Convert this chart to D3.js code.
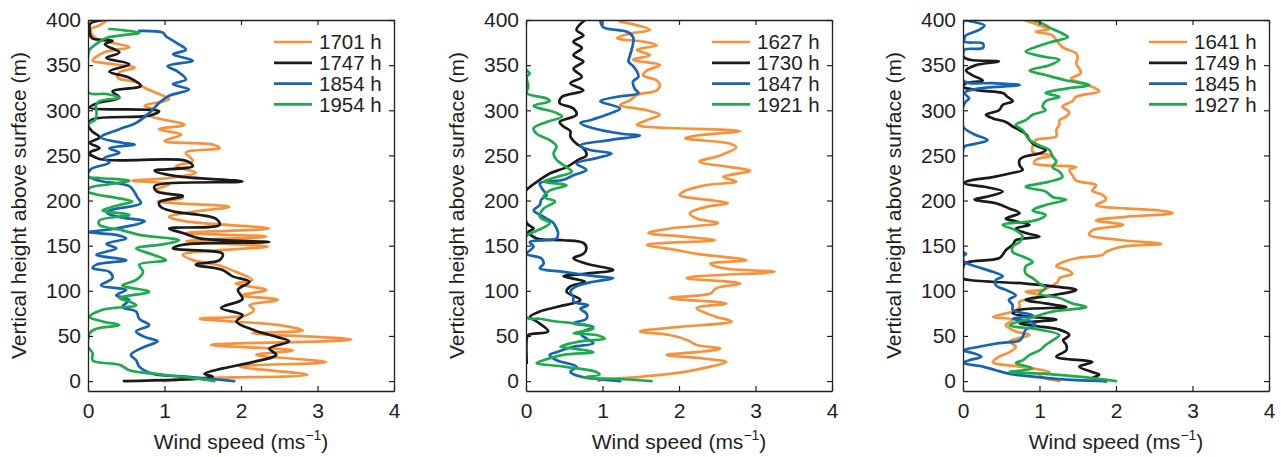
<!DOCTYPE html>
<html>
<head>
<meta charset="utf-8">
<script src="https://cdn.jsdelivr.net/npm/d3@7"></script>
<style>
  html, body { margin: 0; padding: 0; background: #fff; }
  svg text { font-family: "Liberation Sans", Arial, Helvetica, sans-serif; fill: #231f20; }
</style>
</head>
<body>
<svg id="chart" width="1281" height="457"></svg>
<script>
// ---------------- DATA: [height (m), wind speed (m/s)] ----------------
// Panel 1
const p1_1701 = [[400,0.26],[394,0.15],[390,0.04],[384,0.05],[380,0.10],[375,0.30],[370,0.54],[365,0.24],[360,0.12],[355,0.06],[352,0.25],[347,0.61],[342,0.41],[336,0.39],[331,0.63],[325,0.74],[318,0.93],[312,1.06],[305,0.74],[299,0.91],[294,0.82],[284,1.26],[279,0.93],[273,1.22],[266,1.00],[262,1.63],[258,1.72],[253,1.28],[244,1.37],[238,1.15],[231,1.41],[225,1.06],[222,0.58],[218,1.06],[212,0.89],[203,1.24],[199,0.91],[193,1.85],[188,1.41],[182,1.06],[177,1.28],[169,2.37],[164,1.28],[160,2.33],[155,1.28],[149,2.35],[145,1.72],[140,1.24],[134,1.37],[128,1.72],[121,1.93],[112,2.15],[108,1.93],[101,2.33],[95,2.02],[90,2.48],[84,2.11],[79,2.17],[73,2.07],[69,1.46],[66,1.89],[62,2.50],[56,2.81],[53,2.15],[46,3.44],[40,1.61],[34,2.68],[29,2.20],[21,3.11],[16,1.98],[7,2.87],[3,1.41],[0,0.98]];
const p1_1747 = [[400,0.20],[396,0.03],[390,0.02],[380,0.05],[377,0.32],[373,0.22],[364,0.41],[358,0.24],[351,0.54],[343,0.28],[336,0.54],[327,0.69],[321,0.32],[314,0.41],[308,0.13],[303,0.02],[299,0.93],[294,0.80],[290,0.06],[284,0.00],[277,0.05],[270,0.15],[264,0.02],[258,0.15],[253,0.02],[246,0.15],[244,1.28],[238,1.37],[233,0.87],[227,1.15],[221,2.02],[216,0.87],[210,0.90],[205,1.24],[198,0.93],[193,0.95],[188,1.11],[180,1.67],[173,1.72],[169,1.06],[164,1.24],[158,1.46],[154,2.37],[151,1.24],[147,1.11],[141,1.76],[134,1.72],[129,1.41],[123,1.76],[116,1.89],[110,2.11],[101,1.96],[91,2.02],[81,1.74],[73,2.02],[66,1.94],[57,2.15],[49,2.46],[44,2.63],[36,2.37],[29,2.46],[21,2.15],[14,1.76],[8,1.52],[5,1.63],[3,1.50],[0,0.47]];
const p1_1854 = [[388,0.67],[386,0.98],[382,1.02],[375,1.15],[367,1.28],[362,1.11],[355,1.37],[349,1.04],[343,1.17],[334,1.28],[329,1.11],[323,1.32],[316,1.06],[308,0.93],[297,0.80],[286,0.63],[279,0.41],[270,0.17],[264,0.45],[262,0.61],[258,0.28],[253,0.41],[247,0.21],[242,0.28],[235,0.04],[227,0.00],[222,0.15],[216,0.54],[209,0.61],[203,0.65],[197,0.69],[189,0.28],[186,0.25],[181,0.45],[177,0.74],[169,0.37],[165,0.02],[162,0.37],[158,0.50],[152,0.24],[147,0.37],[140,0.11],[134,0.50],[129,0.11],[125,0.06],[121,0.28],[114,0.32],[106,0.17],[101,0.50],[95,0.37],[90,0.54],[82,0.45],[77,0.63],[69,0.67],[62,0.80],[55,0.63],[49,0.74],[44,0.91],[38,0.74],[29,0.56],[23,0.63],[16,0.67],[8,0.85],[5,1.28],[0,1.91]];
const p1_1954 = [[390,0.28],[386,0.67],[380,0.24],[373,0.10],[367,0.02],[360,0.00],[320,0.00],[318,0.24],[314,0.41],[310,0.15],[305,0.10],[300,0.11],[290,0.10],[284,0.00],[227,0.00],[225,0.15],[222,0.54],[218,0.28],[214,0.02],[210,0.00],[207,0.10],[203,0.37],[199,0.58],[195,0.41],[189,0.19],[184,0.54],[178,0.15],[173,0.15],[167,0.45],[162,0.67],[156,1.19],[152,1.02],[147,0.63],[140,0.85],[134,1.02],[129,0.67],[121,0.72],[112,0.63],[106,0.45],[99,0.80],[92,0.41],[88,0.54],[84,0.63],[79,0.19],[71,0.02],[66,0.19],[62,0.41],[58,0.11],[53,0.02],[45,0.00],[38,0.00],[31,0.06],[23,0.06],[18,0.41],[12,0.54],[7,0.98],[3,1.41],[0,1.65]];
// Panel 2
const p2_1627 = [[398,1.23],[396,1.36],[389,1.62],[385,1.36],[380,1.19],[376,1.53],[372,1.71],[367,1.45],[361,1.62],[356,1.40],[350,1.75],[344,1.58],[339,1.53],[333,1.71],[328,1.75],[322,1.71],[317,1.45],[311,1.36],[306,1.23],[300,1.58],[295,1.75],[289,1.58],[284,1.45],[282,1.53],[277,2.80],[272,2.23],[269,2.08],[263,2.67],[259,2.75],[250,2.54],[243,2.27],[237,2.67],[233,2.93],[226,2.58],[221,2.75],[217,2.36],[210,2.06],[206,2.01],[200,2.45],[197,2.64],[193,2.36],[186,2.14],[180,2.23],[175,2.51],[169,1.88],[164,1.60],[160,2.06],[156,2.47],[151,1.58],[145,1.97],[141,2.23],[134,2.88],[130,2.41],[125,2.58],[121,3.25],[116,2.23],[114,2.10],[108,2.80],[103,2.49],[97,2.41],[92,1.88],[86,2.62],[81,2.23],[75,2.36],[71,2.49],[66,2.69],[60,2.01],[55,1.49],[51,1.88],[45,2.12],[40,2.23],[36,2.54],[32,2.23],[29,1.84],[25,2.32],[21,2.62],[16,2.41],[10,2.06],[5,1.53],[1,0.97],[0,0.95]];
const p2_1730 = [[400,0.77],[389,0.66],[383,0.75],[376,0.62],[369,0.73],[361,0.62],[354,0.75],[346,0.62],[337,0.73],[330,0.58],[322,0.75],[315,0.47],[308,0.44],[302,0.62],[295,0.66],[287,0.44],[282,0.49],[277,0.58],[271,0.58],[263,0.66],[258,0.75],[250,0.79],[245,0.68],[237,0.53],[230,0.31],[223,0.18],[215,0.05],[211,0.00],[175,0.01],[169,0.10],[165,0.03],[158,0.14],[156,0.49],[153,0.75],[147,0.79],[141,0.75],[136,0.62],[130,0.79],[123,1.14],[119,0.79],[116,0.49],[110,0.77],[105,0.58],[99,0.53],[90,0.71],[82,0.40],[77,0.18],[71,0.05],[66,0.14],[55,0.29],[51,0.03],[47,0.01],[20,0.01]];
const p2_1847 = [[400,0.97],[392,1.01],[387,1.32],[381,1.40],[374,1.40],[367,1.38],[361,1.36],[354,1.34],[349,1.40],[343,1.45],[337,1.47],[332,1.40],[324,1.42],[319,1.47],[315,1.19],[310,0.97],[302,1.23],[295,1.05],[289,0.84],[286,0.71],[280,0.88],[274,1.25],[272,1.49],[267,1.10],[261,0.71],[256,0.84],[252,1.12],[247,0.92],[241,0.66],[234,0.79],[228,0.62],[223,0.49],[219,0.18],[211,0.23],[206,0.27],[201,0.20],[195,0.18],[189,0.10],[182,0.23],[175,0.36],[169,0.40],[164,0.42],[158,0.40],[154,0.05],[149,0.10],[141,0.01],[136,0.20],[130,0.23],[125,0.18],[121,0.49],[116,0.92],[114,1.14],[110,0.88],[105,0.66],[99,0.58],[93,0.62],[88,0.62],[84,0.81],[80,0.71],[75,0.79],[69,0.79],[64,0.62],[60,0.88],[53,0.71],[47,0.79],[42,0.88],[38,0.62],[32,0.40],[29,0.31],[23,0.40],[16,0.66],[10,0.58],[5,0.71],[0,1.23]];
const p2_1921 = [[400,0.00],[345,0.00],[341,0.05],[337,0.01],[326,0.03],[319,0.01],[313,0.27],[310,0.31],[305,0.10],[297,0.40],[293,0.47],[287,0.27],[280,0.10],[274,0.14],[267,0.31],[260,0.40],[252,0.36],[245,0.40],[237,0.53],[232,0.60],[226,0.40],[221,0.23],[217,0.53],[211,0.31],[204,0.23],[199,0.38],[191,0.23],[182,0.18],[175,0.31],[170,0.23],[165,0.10],[160,0.00],[71,0.00],[69,0.18],[66,0.40],[62,0.79],[58,0.88],[53,0.62],[51,0.92],[47,1.03],[44,0.71],[38,0.45],[36,0.62],[32,0.88],[29,0.49],[23,0.23],[20,0.14],[16,0.49],[10,0.92],[7,0.96],[4,0.75],[2,1.27],[0,1.64]];
// Panel 3
const p3_1641 = [[400,0.80],[394,1.00],[390,1.13],[387,0.95],[383,1.17],[378,1.22],[370,1.30],[363,1.48],[358,1.50],[352,1.48],[346,1.52],[341,1.54],[335,1.41],[330,1.56],[324,1.74],[321,1.78],[315,1.48],[310,1.43],[304,1.30],[298,1.39],[293,1.35],[289,1.26],[284,1.26],[278,1.22],[271,1.22],[267,0.95],[260,0.91],[254,0.91],[250,1.17],[245,0.95],[241,0.93],[237,1.48],[234,1.39],[228,1.43],[222,1.48],[217,1.74],[211,1.69],[206,1.83],[201,1.87],[195,1.74],[189,2.57],[186,2.74],[182,2.13],[178,1.74],[173,2.09],[167,1.69],[162,1.65],[156,2.09],[152,2.59],[149,2.09],[143,1.87],[140,1.83],[136,1.48],[130,1.26],[127,1.22],[123,1.37],[119,1.43],[114,1.26],[110,1.24],[106,1.17],[101,1.04],[99,0.82],[95,1.00],[92,0.95],[88,0.74],[82,0.74],[77,0.65],[71,0.39],[68,0.65],[62,0.56],[55,0.69],[51,0.87],[44,0.61],[38,0.69],[32,0.61],[27,0.47],[21,0.39],[16,0.74],[10,1.13],[7,1.00],[3,1.08],[0,1.26]];
const p3_1749 = [[400,0.00],[360,0.00],[356,0.09],[354,0.47],[350,0.17],[344,0.04],[339,0.12],[333,0.26],[330,0.04],[326,0.00],[322,0.21],[319,0.52],[315,0.58],[310,0.65],[306,0.52],[300,0.47],[295,0.30],[291,0.39],[287,0.56],[282,0.65],[278,0.74],[273,0.83],[267,0.87],[261,0.95],[256,1.08],[252,1.00],[249,0.82],[245,0.74],[239,0.74],[234,0.78],[230,0.61],[226,0.39],[221,0.04],[219,0.02],[215,0.30],[210,0.52],[204,0.30],[201,0.15],[197,0.43],[191,0.61],[186,0.74],[180,0.56],[177,0.69],[173,0.87],[169,0.69],[164,0.82],[160,1.00],[156,0.69],[151,0.65],[145,0.56],[140,0.52],[136,0.47],[132,0.08],[130,0.02],[114,0.00],[112,0.08],[108,0.82],[105,1.17],[101,1.48],[95,1.17],[90,0.82],[86,1.08],[82,1.35],[79,0.74],[75,0.65],[71,0.91],[68,1.22],[64,0.74],[60,1.04],[57,1.26],[51,1.39],[45,1.31],[40,1.35],[34,1.35],[27,1.22],[21,1.69],[16,1.52],[10,1.69],[7,1.78],[3,1.69],[0,1.87]];
const p3_1845 = [[400,0.00],[398,0.13],[394,0.28],[389,0.21],[383,0.04],[380,0.02],[376,0.02],[374,0.26],[369,0.26],[367,0.02],[360,0.00],[333,0.00],[330,0.39],[328,0.74],[325,0.30],[322,0.08],[319,0.02],[313,0.08],[310,0.04],[304,0.00],[282,0.00],[274,0.13],[267,0.32],[263,0.17],[260,0.02],[256,0.00],[143,0.00],[141,0.04],[138,0.00],[132,0.02],[127,0.17],[121,0.39],[116,0.52],[112,0.43],[106,0.43],[101,0.56],[95,0.69],[90,0.60],[84,0.65],[79,0.65],[73,0.91],[69,0.65],[66,0.87],[62,0.95],[57,0.82],[49,0.78],[45,0.74],[42,0.47],[38,0.21],[34,0.00],[31,0.13],[27,0.24],[23,0.08],[20,0.00],[16,0.26],[12,0.43],[8,0.61],[5,0.91],[1,1.48],[0,1.87]];
const p3_1927 = [[400,0.91],[396,1.04],[390,1.17],[385,1.30],[381,1.37],[376,1.17],[370,0.95],[365,0.82],[359,1.08],[356,1.26],[350,1.13],[344,0.87],[339,1.08],[333,1.35],[328,1.65],[324,1.35],[319,1.08],[315,1.26],[310,1.08],[304,1.04],[300,1.08],[295,0.91],[289,0.82],[284,0.69],[278,0.78],[273,0.82],[267,0.87],[261,1.00],[256,1.13],[249,1.17],[243,1.22],[237,1.17],[232,1.26],[226,1.30],[221,1.13],[215,0.82],[210,1.08],[204,1.17],[201,1.35],[195,1.08],[189,0.91],[184,1.08],[178,0.95],[173,0.52],[167,0.69],[160,0.78],[154,0.74],[149,0.65],[143,0.65],[138,0.78],[132,0.91],[127,0.82],[119,0.82],[114,0.91],[108,1.00],[103,1.08],[97,1.00],[92,1.26],[86,1.43],[82,1.61],[77,1.17],[73,1.00],[68,0.82],[62,0.61],[57,1.00],[51,1.26],[45,1.17],[40,1.08],[34,1.00],[29,0.87],[23,0.78],[20,0.69],[14,0.91],[10,0.61],[8,1.08],[4,1.61],[0,2.00]];

const xTicks = [0, 1, 2, 3, 4];
const yTicks = [0, 50, 100, 150, 200, 250, 300, 350, 400];
const labels1 = ["1701 h", "1747 h", "1854 h", "1954 h"];
const labels2 = ["1627 h", "1730 h", "1847 h", "1921 h"];
const labels3 = ["1641 h", "1749 h", "1845 h", "1927 h"];
const seriesColors = ["#f6923c", "#1a1a1a", "#1664b2", "#1eab4b"];

// ---------------- LAYOUT ----------------
const svg = d3.select("#chart");
const panelLefts = [88, 526, 963];
const plotW = 306, plotTop = 20, plotBottom = 391;
const panels = [
  { data: [p1_1701, p1_1747, p1_1854, p1_1954], labels: labels1 },
  { data: [p2_1627, p2_1730, p2_1847, p2_1921], labels: labels2 },
  { data: [p3_1641, p3_1749, p3_1845, p3_1927], labels: labels3 }
];
const y = d3.scaleLinear().domain([-11, 400]).range([plotBottom, plotTop]);
const axisColor = "#231f20";
const FS = 21;

panels.forEach((p, i) => {
  const left = panelLefts[i];
  const x = d3.scaleLinear().domain([0, 4]).range([left, left + plotW]);
  const g = svg.append("g");

  const clipId = "clip" + i;
  svg.append("clipPath").attr("id", clipId).append("rect")
    .attr("x", left).attr("y", plotTop).attr("width", plotW).attr("height", plotBottom - plotTop);

  const line = d3.line().x(d => x(d[1])).y(d => y(d[0])).curve(d3.curveCatmullRom.alpha(0.5));
  const lg = g.append("g").attr("clip-path", `url(#${clipId})`);
  p.data.forEach((ser, k) => {
    lg.append("path").attr("d", line(ser)).attr("fill", "none")
      .attr("stroke", seriesColors[k]).attr("stroke-width", 2.7)
      .attr("stroke-linejoin", "round").attr("stroke-linecap", "round");
  });

  // axes (ticks inward on all four sides)
  const ax = (gen, tx, ty) => {
    const a = g.append("g").attr("transform", `translate(${tx},${ty})`).call(gen);
    a.selectAll("path").attr("stroke", axisColor).attr("stroke-width", 1.3);
    a.selectAll("line").attr("stroke", axisColor).attr("stroke-width", 1.2);
    a.selectAll("text").attr("font-size", FS).attr("fill", axisColor)
      .style("font-family", '"Liberation Sans", Arial, sans-serif');
    return a;
  };
  ax(d3.axisBottom(x).tickValues(xTicks).tickFormat(d3.format("d")).tickSize(-5).tickSizeOuter(0).tickPadding(12), 0, plotBottom);
  ax(d3.axisTop(x).tickValues(xTicks).tickFormat("").tickSize(-5).tickSizeOuter(0), 0, plotTop);
  ax(d3.axisLeft(y).tickValues(yTicks).tickFormat(d3.format("d")).tickSize(-5).tickSizeOuter(0).tickPadding(7), left, 0);
  ax(d3.axisRight(y).tickValues(yTicks).tickFormat("").tickSize(-5).tickSizeOuter(0), left + plotW, 0);

  // x label
  const xl = g.append("text").attr("x", left + plotW / 2).attr("y", 449)
    .attr("text-anchor", "middle").attr("font-size", FS);
  xl.append("tspan").text("Wind speed (ms");
  xl.append("tspan").attr("font-size", 14).attr("dy", -9).text("\u22121");
  xl.append("tspan").attr("dy", 9).text(")");

  // y label
  g.append("text").attr("transform", `translate(${left - 62},${(plotTop + plotBottom) / 2}) rotate(-90)`)
    .attr("text-anchor", "middle").attr("font-size", FS)
    .text("Vertical height above surface (m)");

  // legend
  const legX = left + plotW - 120;
  p.labels.forEach((lab, k) => {
    const yy = 42 + k * 20.8;
    g.append("line").attr("x1", legX).attr("x2", legX + 38).attr("y1", yy).attr("y2", yy)
      .attr("stroke", seriesColors[k]).attr("stroke-width", 2.7);
    g.append("text").attr("x", legX + 45).attr("y", yy).attr("dy", "0.35em")
      .attr("font-size", 20.5).text(lab);
  });
});
</script>
</body>
</html>
